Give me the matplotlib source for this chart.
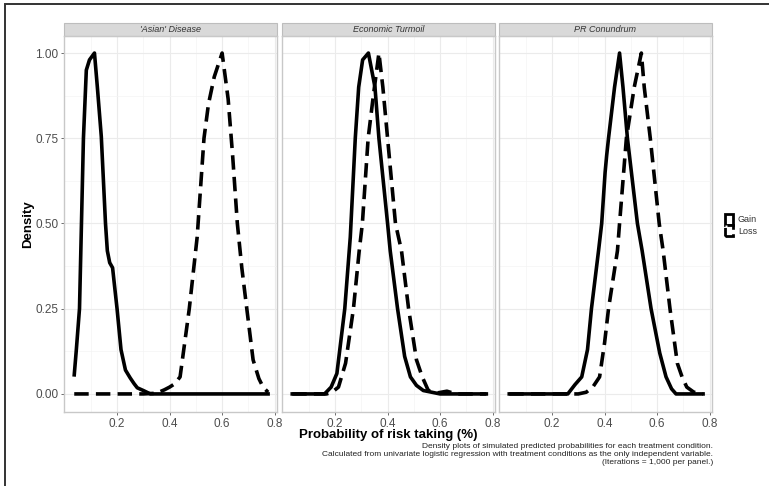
import matplotlib
matplotlib.use("Agg")
import matplotlib.pyplot as plt
from matplotlib.patches import Rectangle, Patch

plt.rcParams['font.family'] = ['Liberation Sans', 'DejaVu Sans']

panels = ["'Asian' Disease", "Economic Turmoil", "PR Conundrum"]

# scaled density curves (x = probability, y = density / max)
asian_gain_x = [0.037, 0.045, 0.057, 0.072, 0.083, 0.095, 0.114, 0.125, 0.14, 0.156, 0.163,
                0.172, 0.183, 0.19, 0.2, 0.215, 0.232, 0.25, 0.265, 0.277, 0.30, 0.327, 0.40, 0.775]
asian_gain_y = [0.056, 0.13, 0.25, 0.75, 0.95, 0.98, 1.0, 0.9, 0.755, 0.5, 0.42,
                0.385, 0.37, 0.32, 0.25, 0.13, 0.07, 0.047, 0.03, 0.018, 0.01, 0.0, 0.0, 0.0]
asian_loss_x = [0.037, 0.30, 0.35, 0.38, 0.40, 0.42, 0.44, 0.475, 0.505, 0.531, 0.548, 0.57,
                0.6, 0.623, 0.64, 0.658, 0.675, 0.694, 0.718, 0.74, 0.756, 0.775]
asian_loss_y = [0.0, 0.0, 0.002, 0.012, 0.02, 0.03, 0.05, 0.25, 0.46, 0.75, 0.85, 0.93,
                1.0, 0.865, 0.7, 0.5, 0.37, 0.25, 0.1, 0.045, 0.02, 0.005]

econ_gain_x = [0.037, 0.16, 0.185, 0.207, 0.237, 0.258, 0.277, 0.29, 0.305, 0.327, 0.352,
               0.367, 0.4, 0.41, 0.438, 0.465, 0.487, 0.51, 0.536, 0.6, 0.776]
econ_gain_y = [0.0, 0.0, 0.02, 0.06, 0.25, 0.46, 0.75, 0.9, 0.98, 1.0, 0.9,
               0.75, 0.5, 0.42, 0.25, 0.11, 0.05, 0.025, 0.01, 0.0, 0.0]
econ_loss_x = [0.037, 0.168, 0.19, 0.213, 0.24, 0.27, 0.292, 0.304, 0.326, 0.345, 0.367,
               0.382, 0.4, 0.43, 0.453, 0.48, 0.51, 0.532, 0.555, 0.59, 0.626, 0.66, 0.776]
econ_loss_y = [0.0, 0.0, 0.006, 0.02, 0.09, 0.25, 0.42, 0.5, 0.75, 0.87, 1.0,
               0.9, 0.75, 0.5, 0.42, 0.25, 0.1, 0.05, 0.01, 0.003, 0.008, 0.0, 0.0]

pr_gain_x = [0.037, 0.26, 0.287, 0.313, 0.335, 0.35, 0.377, 0.389, 0.402, 0.408, 0.415, 0.438,
             0.457, 0.47, 0.487, 0.525, 0.543, 0.577, 0.61, 0.634, 0.655, 0.672, 0.775]
pr_gain_y = [0.0, 0.0, 0.027, 0.05, 0.13, 0.25, 0.42, 0.5, 0.65, 0.7, 0.75, 0.9,
             1.0, 0.9, 0.75, 0.5, 0.42, 0.25, 0.12, 0.05, 0.015, 0.0, 0.0]
pr_loss_x = [0.037, 0.30, 0.33, 0.355, 0.381, 0.40, 0.415, 0.449, 0.457, 0.483, 0.513, 0.54,
             0.551, 0.574, 0.608, 0.623, 0.649, 0.677, 0.695, 0.713, 0.74, 0.775]
pr_loss_y = [0.0, 0.0, 0.005, 0.02, 0.05, 0.15, 0.25, 0.42, 0.5, 0.75, 0.9, 1.0,
             0.9, 0.75, 0.5, 0.42, 0.25, 0.09, 0.05, 0.02, 0.005, 0.0]

gain = [(asian_gain_x, asian_gain_y), (econ_gain_x, econ_gain_y), (pr_gain_x, pr_gain_y)]
loss = [(asian_loss_x, asian_loss_y), (econ_loss_x, econ_loss_y), (pr_loss_x, pr_loss_y)]

x_ticks = [0.2, 0.4, 0.6, 0.8]
y_ticks = [0.0, 0.25, 0.5, 0.75, 1.0]
y_ticklabels = ["0.00", "0.25", "0.50", "0.75", "1.00"]

caption = ("Density plots of simulated predicted probabilities for each treatment condition.\n"
           "Calculated from univariate logistic regression with treatment conditions as the only independent variable.\n"
           "(Iterations = 1,000 per panel.)")

W, H = 769, 486
fig = plt.figure(figsize=(W / 100, H / 100), dpi=100)

lefts = [64, 282, 499]
pw = 213
top, bot = 36, 412
dash = (0, (4.0, 2.0))
axes = []
for i, name in enumerate(panels):
    ax = fig.add_axes([lefts[i] / W, 1 - bot / H, pw / W, (bot - top) / H])
    axes.append(ax)
    ax.set_xlim(-0.002, 0.809)
    ax.set_ylim(-0.053, 1.05)
    ax.set_xticks(x_ticks)
    ax.set_xticklabels(["0.2", "0.4", "0.6", "0.8"])
    ax.set_xticks([0.1, 0.3, 0.5, 0.7], minor=True)
    ax.set_yticks(y_ticks)
    ax.set_yticks([0.125, 0.375, 0.625, 0.875], minor=True)
    ax.grid(which='major', color='#EBEBEB', lw=0.8)
    ax.grid(which='minor', color='#F4F4F4', lw=0.5)
    ax.set_axisbelow(True)
    for s in ax.spines.values():
        s.set_color('#C8C8C8')
        s.set_linewidth(1.0)
    ax.tick_params(which='major', length=2.5, width=0.6, color='#555555',
                   labelsize=8.5, labelcolor='#4D4D4D', pad=1.5)
    ax.tick_params(which='minor', length=0)
    if i == 0:
        ax.set_yticklabels(y_ticklabels)
    else:
        ax.tick_params(axis='y', which='major', length=0, labelleft=False)

    gx, gy = gain[i]
    lx, ly = loss[i]
    ax.plot(gx, gy, color='black', lw=2.6, solid_joinstyle='round')
    ax.plot(lx, ly, color='black', lw=2.6, linestyle=dash, dash_capstyle='butt')

    # facet strip
    sh = 13 / (bot - top)
    ax.add_patch(Rectangle((0, 1), 1, sh, transform=ax.transAxes, clip_on=False,
                           facecolor='#D9D9D9', edgecolor='#BDBDBD', lw=0.8))
    ax.text(0.5, 1 + sh / 2, name, transform=ax.transAxes, ha='center', va='center',
            fontsize=6.5, style='italic', color='#333333')

fig.text(28 / W, 1 - 224 / H, "Density", rotation=90, ha='center', va='center',
         fontsize=9.5, fontweight='bold')
fig.text(388 / W, 1 - 434.5 / H, "Probability of risk taking (%)", ha='center', va='center',
         fontsize=9.5, fontweight='bold')
fig.text(713 / W, 1 - 443 / H, caption, ha='right', va='top', fontsize=6,
         linespacing=1.2, color='#222222')

handles = [Patch(facecolor='white', edgecolor='black', lw=2.0, label='Gain'),
           Patch(facecolor='white', edgecolor='black', lw=2.0, linestyle='--', label='Loss')]
fig.legend(handles=handles, loc='center left', bbox_to_anchor=(719 / W, 1 - 225 / H),
           frameon=False, fontsize=6.5, handlelength=0.9, handleheight=1.5,
           handletextpad=0.5, labelspacing=0.05, borderpad=0.2, labelcolor='#333333')

# outer frame (left and top edges visible)
fig.add_artist(Rectangle((4.5 / W, -0.1), 1.2, 1 - 3.5 / H + 0.1, transform=fig.transFigure,
                         fill=False, edgecolor='#333333', lw=1.4))

fig.savefig("out.png", dpi=100)
